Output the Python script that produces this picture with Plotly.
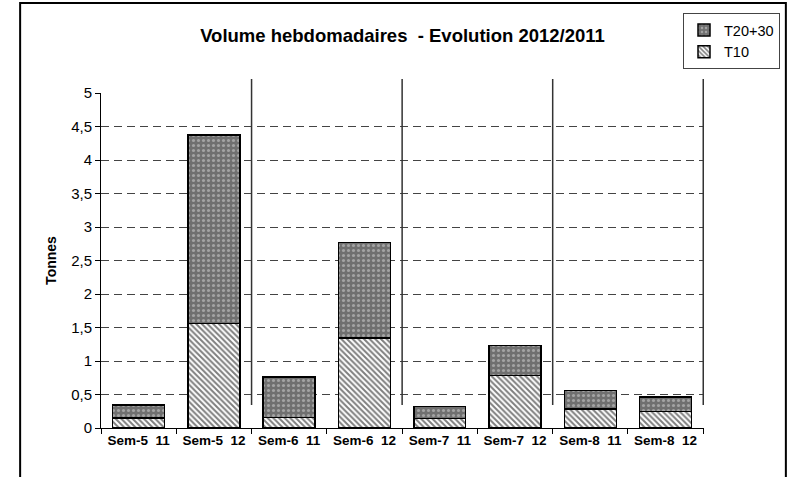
import plotly.graph_objects as go

categories = ["Sem-5\u00a0\u00a011", "Sem-5\u00a0\u00a012", "Sem-6\u00a0\u00a011", "Sem-6\u00a0\u00a012",
              "Sem-7\u00a0\u00a011", "Sem-7\u00a0\u00a012", "Sem-8\u00a0\u00a011", "Sem-8\u00a0\u00a012"]
t10 = [0.15, 1.56, 0.16, 1.34, 0.14, 0.78, 0.28, 0.25]
total = [0.34, 4.37, 0.76, 2.77, 0.32, 1.23, 0.56, 0.46]
t2030 = [round(a - b, 3) for a, b in zip(total, t10)]
ytick_vals = [0, 0.5, 1, 1.5, 2, 2.5, 3, 3.5, 4, 4.5, 5]

W, H = 791, 477
ML, MR, MT, MB = 101, 86, 93, 49
PW, PH = W - ML - MR, H - MT - MB

def px_x(px):
    return (px - ML) / PW

def px_y(py):
    return (H - MB - py) / PH

FONT = "Liberation Sans, Arial, sans-serif"

fig = go.Figure()
fig.add_trace(go.Bar(
    x=categories, y=t10, name="T10",
    marker=dict(color="white", line=dict(color="black", width=1.5),
                pattern=dict(shape="\\", fgcolor="black", bgcolor="white", size=4, solidity=0.5)),
))
fig.add_trace(go.Bar(
    x=categories, y=t2030, name="T20+30",
    marker=dict(color="#808080", line=dict(color="black", width=1.5),
                pattern=dict(shape=".", fgcolor="#d8d8d8", bgcolor="#707070", size=5, solidity=0.3)),
))

shapes = []
for i in range(1, len(categories), 2):
    shapes.append(dict(type="line", xref="x", yref="paper", x0=i + 0.5, x1=i + 0.5,
                       y0=px_y(405), y1=px_y(79), line=dict(color="#333333", width=1.5)))
shapes.append(dict(type="rect", xref="paper", yref="paper",
                   x0=px_x(20), x1=px_x(787), y0=px_y(500), y1=px_y(3),
                   line=dict(color="black", width=2), fillcolor="rgba(0,0,0,0)"))

fig.update_layout(
    width=W, height=H,
    margin=dict(l=ML, r=MR, t=MT, b=MB),
    paper_bgcolor="white", plot_bgcolor="white",
    barmode="stack", bargap=0.31,
    separators=", ",
    font=dict(family=FONT, size=14, color="black"),
    title=dict(text="<b>Volume hebdomadaires\u00a0\u00a0- Evolution 2012/2011</b>",
               x=0.5, xref="paper", xanchor="center",
               y=1 - 36 / H, yref="container", yanchor="middle",
               font=dict(size=18.5, family=FONT)),
    legend=dict(x=px_x(780), xanchor="right", y=px_y(13), yanchor="top",
                traceorder="reversed", bordercolor="#444444", borderwidth=1,
                bgcolor="white", font=dict(size=14.5), itemwidth=30,
                tracegroupgap=0),
    shapes=shapes,
    showlegend=True,
)
fig.update_xaxes(
    type="category", showline=True, linecolor="black", linewidth=1,
    ticks="outside", ticklen=5, tickcolor="black", tickson="boundaries",
    showgrid=False, tickfont=dict(size=13.5, family=FONT), tickprefix="<b>", ticksuffix="</b>",
)
fig.update_yaxes(
    range=[0, 5], tickvals=ytick_vals, showline=True, linecolor="black", linewidth=1,
    ticks="outside", ticklen=5, tickcolor="black",
    showgrid=True, gridcolor="#444444", gridwidth=1, griddash="8px,5px",
    zeroline=False, tickfont=dict(size=15),
    title=dict(text="<b>Tonnes</b>", font=dict(size=14), standoff=11),
)

post = (
    "document.documentElement.style.overflow='hidden';"
    "document.body.style.margin='0px';document.body.style.overflow='hidden';"
)
fig.write_html("out.html", config={"displayModeBar": False}, post_script=post)
